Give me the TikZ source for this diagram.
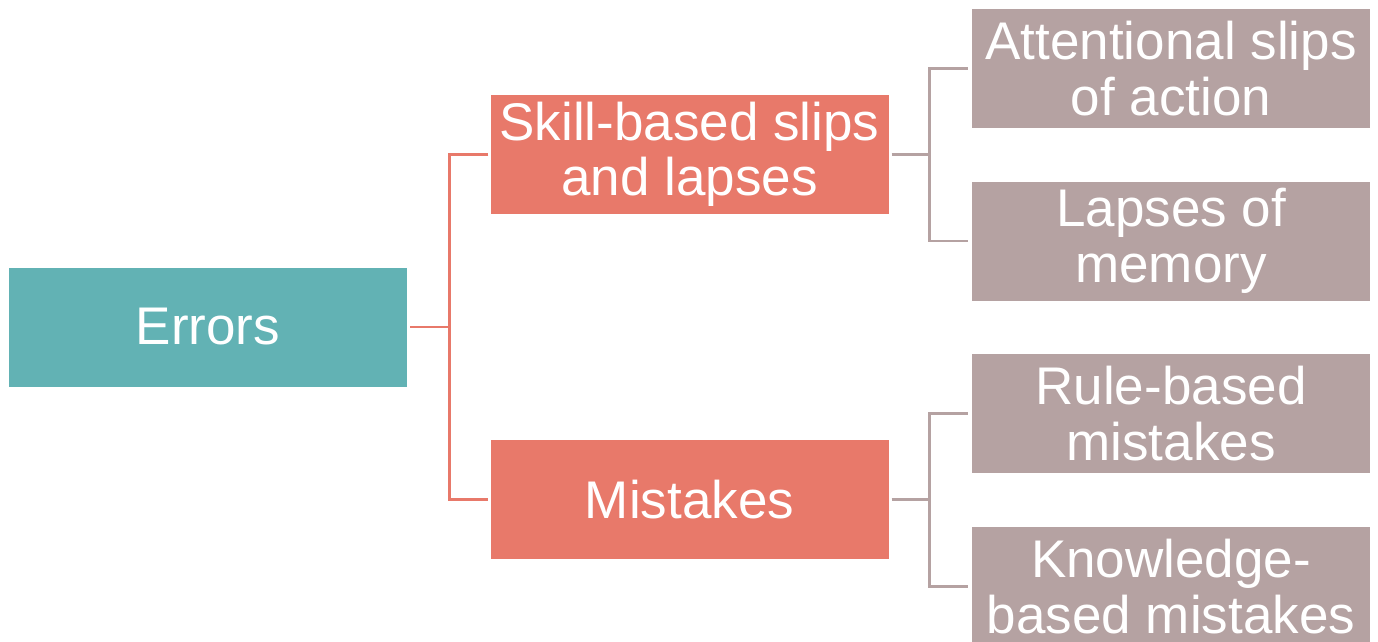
\documentclass[tikz,border=0pt]{standalone}
\usepackage{fontspec}
\setmainfont{Liberation Sans}
\definecolor{teal1}{HTML}{62B2B4}
\definecolor{salmon1}{HTML}{E8796A}
\definecolor{mauve1}{HTML}{B5A2A2}
\begin{document}
\begin{tikzpicture}[x=1pt,y=-1pt,
  box/.style={rectangle,inner sep=0pt,minimum width=398pt,minimum height=119pt,
    text=white,align=center,font=\fontsize{53}{55.5}\selectfont},
  rootbox/.style={box,fill=teal1},
  midbox/.style={box,fill=salmon1},
  leafbox/.style={box,fill=mauve1},
  linkA/.style={draw=salmon1,line width=2.6pt},
  linkB/.style={draw=mauve1,line width=2.6pt}]
\clip (0,0) rectangle (1378,642);
\fill[white] (0,0) rectangle (1378,642);
\node[rootbox] (errors) at (208,327) {Errors};
\node[midbox] (skill) at (689.5,154.5) {Skill-based slips\\and lapses};
\node[midbox] (mist) at (689.5,499.5) {Mistakes};
\node[leafbox] (att) at (1171,68.5) {Attentional slips\\of action};
\node[leafbox] (lap) at (1171,241) {Lapses of\\memory};
\node[leafbox] (rule) at (1171,413.5) {Rule-based\\mistakes};
\node[leafbox] (know) at (1171,586.5) {Knowledge-\\based mistakes};
% first level
\draw[linkA] ([xshift=3pt]errors.east) -- ++(39,0) coordinate (j1);
\draw[linkA] ([xshift=-2pt]skill.west) -| (j1) |- ([xshift=-2pt]mist.west);
% second level
\draw[linkB] ([xshift=3pt]skill.east) -- ++(38,0) coordinate (j2);
\draw[linkB] ([xshift=-4pt]att.west) -| (j2) |- ([xshift=-4pt]lap.west);
\draw[linkB] ([xshift=3pt]mist.east) -- ++(38,0) coordinate (j3);
\draw[linkB] ([xshift=-4pt]rule.west) -| (j3) |- ([xshift=-4pt]know.west);
\end{tikzpicture}
\end{document}
